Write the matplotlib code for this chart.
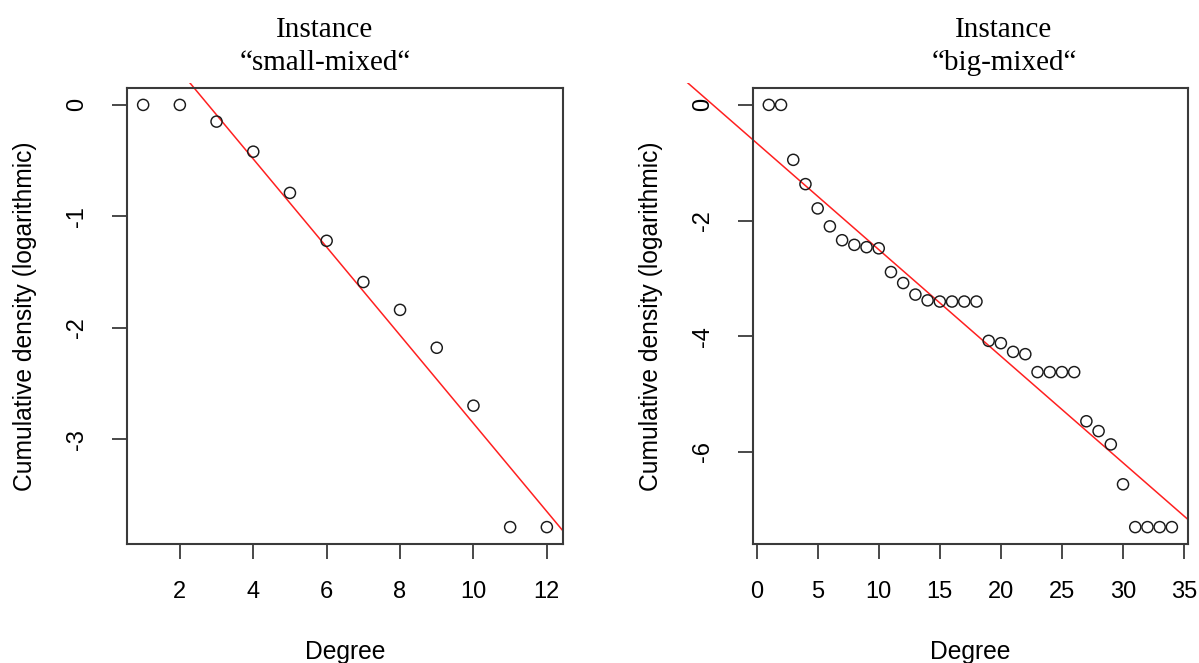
import numpy as np
import matplotlib
matplotlib.use("Agg")
import matplotlib.pyplot as plt
from matplotlib.transforms import Bbox, TransformedBbox

# --- data ---
small_degree = np.arange(1, 13)
small_logdens = [0.0, 0.0, -0.15, -0.42, -0.79, -1.22, -1.59, -1.84, -2.18, -2.70, -3.79, -3.79]
small_fit = (1.097, -0.3956)   # intercept, slope

big_degree = np.arange(1, 35)
big_logdens = [0.0, 0.0, -0.95, -1.37, -1.79, -2.10, -2.34, -2.42, -2.46, -2.48,
               -2.89, -3.08, -3.28, -3.38, -3.40, -3.40, -3.40, -3.40, -4.08, -4.12,
               -4.27, -4.31, -4.62, -4.62, -4.62, -4.62, -5.47, -5.64, -5.87, -6.56,
               -7.30, -7.30, -7.30, -7.30]
big_fit = (-0.659, -0.1843)

small_xticks = [2, 4, 6, 8, 10, 12]
small_yticks = [0, -1, -2, -3]
big_xticks = [0, 5, 10, 15, 20, 25, 30, 35]
big_yticks = [0, -2, -4, -6]

titles = ["Instance\n\u201csmall-mixed\u201c", "Instance\n\u201cbig-mixed\u201c"]

W, H = 1199, 663
FS = 17
FS_LAB = 17.7
SANS = "Liberation Sans"
SERIF = "Liberation Serif"
BOX = "#3a3a3a"


def r_limits(vals):
    lo, hi = min(vals), max(vals)
    pad = 0.04 * (hi - lo)
    return lo - pad, hi + pad


def panel(rect, x, y, fit, xticks, yticks, title, title_x):
    ax = fig.add_axes(rect)
    ax.set_xlim(*r_limits(x))
    ax.set_ylim(*r_limits(y))
    ax.scatter(x, y, s=64, facecolors="none", edgecolors="#1a1a1a", linewidths=1.05, zorder=3)

    # fitted line, allowed to run a bit past the top of the box
    xl = ax.get_xlim()
    span = xl[1] - xl[0]
    xs = np.array([xl[0] - 2 * span, xl[1]])
    line, = ax.plot(xs, fit[0] + fit[1] * xs, color="#ff2020", lw=1.1, zorder=2)
    line.set_clip_box(TransformedBbox(Bbox([[-2, -2], [1, 1.01]]), ax.transAxes))

    ax.set_xticks(xticks)
    ax.set_yticks(yticks)
    ax.set_xticklabels([str(t) for t in xticks], fontsize=FS, family=SANS)
    ax.set_yticklabels([str(t) for t in yticks], fontsize=FS, family=SANS,
                       rotation=90, va="center")
    ax.tick_params(axis="x", length=11, width=1.3, color=BOX, pad=16, direction="out")
    ax.tick_params(axis="y", length=11, width=1.3, color=BOX, pad=17, direction="out")
    for s in ax.spines.values():
        s.set_color(BOX)
        s.set_linewidth(1.5)

    ax.set_xlabel("Degree", fontsize=FS_LAB, family=SANS, labelpad=26.5)
    ax.set_ylabel("Cumulative density (logarithmic)", fontsize=FS_LAB, family=SANS, labelpad=21)

    l1, l2 = title.split("\n")
    fig.text(title_x / W, 1 - 37 / H, l1, ha="center", va="baseline", fontsize=21, family=SERIF)
    fig.text(title_x / W, 1 - 70 / H, l2, ha="center", va="baseline", fontsize=21, family=SERIF)
    return ax


fig = plt.figure(figsize=(W / 100, H / 100), dpi=100)

bot, top = 544, 88
panel([127 / W, 1 - bot / H, (563 - 127) / W, (bot - top) / H],
      small_degree, small_logdens, small_fit, small_xticks, small_yticks, titles[0], 325)
panel([752.7 / W, 1 - bot / H, (1188 - 752.7) / W, (bot - top) / H],
      big_degree, big_logdens, big_fit, big_xticks, big_yticks, titles[1], 1004)

fig.savefig("out.png", dpi=100)
